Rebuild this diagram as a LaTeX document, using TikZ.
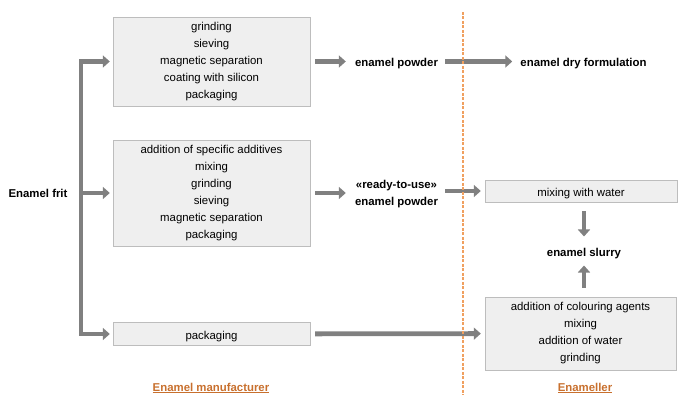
\documentclass[tikz,border=0pt]{standalone}
\usepackage{fontspec}
\setmainfont{Liberation Sans}
\usepackage{xcolor}
\usetikzlibrary{arrows.meta,positioning}

\definecolor{boxfill}{HTML}{EFEFEF}
\definecolor{boxline}{HTML}{BDBDBD}
\definecolor{flowgray}{HTML}{808080}
\definecolor{splitorange}{HTML}{F0A060}
\definecolor{rolebrown}{HTML}{C8702E}

\begin{document}
\begin{tikzpicture}[
    x=1pt, y=-1pt,
    every node/.style={font=\fontsize{11.4}{17}\selectfont},
    stage/.style={draw=boxline, fill=boxfill, align=center, minimum width=#1,
                  inner sep=3pt, execute at begin node={\rule{0pt}{13.5pt}}},
    stage/.default=197pt,
    prod/.style={font=\fontsize{11.4}{17}\selectfont\bfseries, align=center, inner sep=2pt},
    role/.style={font=\fontsize{11.4}{14}\selectfont\bfseries, text=rolebrown},
    flow/.style={-{Triangle[length=7pt,width=12pt]}, line width=4.8pt, draw=flowgray},
  ]
    \useasboundingbox (0,0) rectangle (678,395);

    % --- Enamel manufacturer ---
    \node (frit) at (38,193) {\bfseries Enamel frit};
    \coordinate[right=10pt of frit] (split);

    \node[stage, minimum height=89pt]  (grind)  at (211.5,61.5)
        {grinding\\sieving\\magnetic separation\\coating with silicon\\packaging};
    \node[stage, minimum height=106pt] (addit)  at (211.5,193)
        {addition of specific additives\\mixing\\grinding\\sieving\\magnetic separation\\packaging};
    \node[stage, minimum height=23pt]  (pack)   at (211.5,334) {packaging};

    \node[prod] (powder) at (396.5,64)    {enamel powder};
    \node[prod] (ready)  at (396.5,194.5) {«ready-to-use»\\enamel powder};

    % --- Enameller ---
    \node[prod] (dry) at (583.5,64) {enamel dry formulation};
    \node[stage=192pt, minimum height=22pt] (mix)    at (581,191) {mixing with water};
    \node[prod]                             (slurry) at (584,254) {enamel slurry};
    \node[stage=191pt, minimum height=73pt] (colour) at (580.5,333.5)
        {addition of colouring agents\\mixing\\addition of water\\grinding};

    % --- Arrows: frit to stages ---
    \draw[flow, shorten >=3pt] (split) |- (grind.west);
    \draw[flow, shorten >=3pt] (split) -- (addit.west);
    \draw[flow, shorten >=3pt] (split) |- (pack.west);

    % --- Arrows: stages to products ---
    \draw[flow, shorten <=5pt, shorten >=7pt] (grind.east) -- (grind.east -| powder.west);
    \draw[flow, shorten <=5pt, shorten >=7pt] (addit.east) -- (addit.east -| ready.west);
    \draw[flow, shorten <=5pt, shorten >=6pt] (grind.east -| powder.east) -- (grind.east -| dry.west);
    \draw[flow, shorten <=5pt, shorten >=4pt] (mix -| ready.east) -- (mix.west);
    \draw[flow, shorten <=5pt, shorten >=4pt] (pack) -- (colour);

    % --- Arrows: slurry ---
    \draw[flow, shorten <=9pt, shorten >=10pt] (mix.south -| slurry) -- (slurry);
    \draw[flow, shorten <=9pt, shorten >=4pt] (colour.north -| slurry) -- (slurry);

    % --- Split line and role labels ---
    \draw[splitorange, line width=1.3pt, dash pattern=on 3pt off 1.5pt]
        (463,12) -- (463,395);
    \node[role] (maker)  at (211,388) {\underline{Enamel manufacturer}};
    \node[role] (user)   at (585,388) {\underline{Enameller}};
\end{tikzpicture}
\end{document}
